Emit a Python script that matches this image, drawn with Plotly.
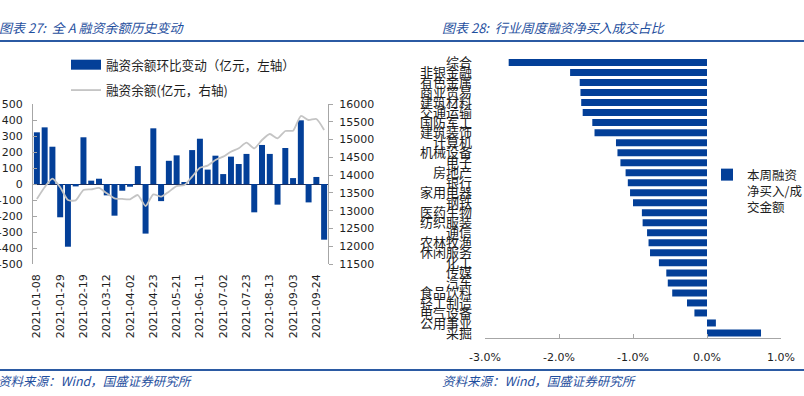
import plotly.graph_objects as go

W, H = 804, 396

# ---------------- data: left chart ----------------
dates = ["2021-01-08", "2021-01-15", "2021-01-22", "2021-01-29", "2021-02-05", "2021-02-10",
         "2021-02-19", "2021-02-26", "2021-03-05", "2021-03-12", "2021-03-19", "2021-03-26",
         "2021-04-02", "2021-04-09", "2021-04-16", "2021-04-23", "2021-04-30", "2021-05-14",
         "2021-05-21", "2021-05-28", "2021-06-04", "2021-06-11", "2021-06-18", "2021-06-25",
         "2021-07-02", "2021-07-09", "2021-07-16", "2021-07-23", "2021-07-30", "2021-08-06",
         "2021-08-13", "2021-08-20", "2021-08-27", "2021-09-03", "2021-09-10", "2021-09-17",
         "2021-09-24", "2021-09-30"]
weekly_change = [323, 354, 233, -208, -392, -15, 292, 21, 33, -71, -198, -42, -17, 112, -310,
                 348, -107, 145, 179, 8, 212, 283, 90, 177, 62, 171, 125, 188, -177, 244, 188,
                 -129, 225, 37, 398, -115, 44, -348]
balance = [13328, 13660, 13900, 13660, 13300, 13290, 13581, 13600, 13640, 13487, 13347, 13330,
           13320, 13440, 13131, 13460, 13394, 13534, 13690, 13722, 13956, 14209, 14266, 14425,
           14519, 14659, 14753, 14913, 14753, 14988, 15156, 15034, 15241, 15250, 15662, 15550,
           15578, 15269]
date_ticks = ["2021-01-08", "2021-01-29", "2021-02-19", "2021-03-12", "2021-04-02", "2021-04-23",
              "2021-05-21", "2021-06-11", "2021-07-02", "2021-07-23", "2021-08-13", "2021-09-03",
              "2021-09-24"]
left_ticks = [-500, -400, -300, -200, -100, 0, 100, 200, 300, 400, 500]
right_ticks = [11500, 12000, 12500, 13000, 13500, 14000, 14500, 15000, 15500, 16000]

# ---------------- data: right chart ----------------
industries = ["综合", "非银金融", "有色金属", "商业贸易", "建筑材料", "交通运输", "国防军工",
              "建筑装饰", "计算机", "机械设备", "电子", "房地产", "银行", "家用电器", "钢铁",
              "医药生物", "纺织服装", "通信", "农林牧渔", "休闲服务", "化工", "传媒", "汽车",
              "食品饮料", "轻工制造", "电气设备", "公用事业", "采掘"]
net_buy_pct = [-2.68, -1.85, -1.72, -1.71, -1.70, -1.68, -1.55, -1.52, -1.23, -1.21, -1.17,
               -1.10, -1.07, -1.04, -1.00, -0.88, -0.87, -0.81, -0.79, -0.77, -0.65, -0.55,
               -0.53, -0.47, -0.27, -0.17, 0.12, 0.73]
pct_ticks = [-3, -2, -1, 0, 1]

BLUE = "#033f98"
GRAY_LINE = "#c4c4c4"
AXIS = "#a6a6a6"
TITLE_BLUE = "#1f4f9e"
TXT = "#1e1e1e"
NUM_FONT = "DejaVu Sans"
CJK = "Noto Sans CJK SC"


def px_x(x):
    return x / W


def px_y(y):
    return (H - y) / H


fig = go.Figure()

# left chart
fig.add_trace(go.Bar(x=dates, y=weekly_change, marker=dict(color=BLUE, line=dict(width=0)),
                     width=0.77, showlegend=False, xaxis="x", yaxis="y"))
fig.add_trace(go.Scatter(x=dates, y=balance, mode="lines",
                         line=dict(color=GRAY_LINE, width=1.8, shape="spline", smoothing=0.6),
                         showlegend=False, xaxis="x", yaxis="y2"))
# legend entries for left chart
fig.add_trace(go.Scatter(x=[None], y=[None], mode="lines", name="融资余额环比变动（亿元，左轴）",
                         line=dict(color=BLUE, width=10), legend="legend", legendgroup="a",
                         xaxis="x", yaxis="y"))
fig.add_trace(go.Scatter(x=[None], y=[None], mode="lines", name="融资余额(亿元，右轴)",
                         line=dict(color=GRAY_LINE, width=1.8), legend="legend", legendgroup="b",
                         xaxis="x", yaxis="y2"))

# right chart
fig.add_trace(go.Bar(x=net_buy_pct, y=industries, orientation="h",
                     marker=dict(color=BLUE, line=dict(width=0)), width=0.7,
                     name="本周融资<br>净买入/成<br>交金额", legend="legend2",
                     xaxis="x3", yaxis="y3"))

fig.update_layout(
    width=W, height=H, autosize=False,
    margin=dict(l=0, r=0, t=0, b=0, pad=0, autoexpand=False),
    paper_bgcolor="white", plot_bgcolor="white",
    showlegend=True,
    xaxis=dict(domain=[px_x(33), px_x(328)], type="category", categoryorder="array",
               categoryarray=dates, range=[-0.5, len(dates) - 0.5],
               tickmode="array", tickvals=date_ticks, ticktext=date_ticks, tickangle=-90,
               tickfont=dict(family=NUM_FONT, size=11, color=TXT), showline=False,
               ticks="", showgrid=False, zeroline=False, ticklabelstandoff=7, anchor="y",
               automargin=False),
    yaxis=dict(domain=[px_y(264), px_y(104)], range=[-500, 500], tickmode="array",
               tickvals=left_ticks, ticktext=[str(v) for v in left_ticks],
               tickfont=dict(family=NUM_FONT, size=11, color=TXT),
               showline=True, linecolor=AXIS, linewidth=1, ticks="inside", ticklen=4,
               tickcolor=AXIS, showgrid=False, zeroline=True, zerolinecolor="#1c2f5e",
               zerolinewidth=1.2, ticklabelstandoff=7, anchor="x", automargin=False),
    yaxis2=dict(overlaying="y", side="right", range=[11500, 16000], tickmode="array",
                tickvals=right_ticks, ticktext=[str(v) for v in right_ticks],
                tickfont=dict(family=NUM_FONT, size=11, color=TXT),
                showline=True, linecolor=AXIS, ticks="outside", ticklen=4, tickcolor=AXIS,
                showgrid=False, zeroline=False, ticklabelstandoff=4, anchor="x",
                automargin=False),
    xaxis3=dict(domain=[px_x(485), px_x(781)], range=[-3, 1], tickmode="array",
                tickvals=pct_ticks, ticktext=[f"{v:.1f}%" for v in pct_ticks],
                tickfont=dict(family=NUM_FONT, size=11, color=TXT),
                showline=True, linecolor=AXIS, ticks="inside", ticklen=4, tickcolor=AXIS,
                showgrid=False, zeroline=False, ticklabelstandoff=9, anchor="y3",
                automargin=False),
    yaxis3=dict(domain=[px_y(338), px_y(57.5)], type="category", categoryorder="array",
                categoryarray=industries, range=[len(industries) - 0.5, -0.5],
                tickmode="array", tickvals=industries, ticktext=industries,
                tickfont=dict(family=CJK, size=13, color=TXT), showline=False, ticks="",
                showgrid=False, zeroline=False, ticklabelstandoff=12, anchor="x3",
                automargin=False),
    yaxis4=dict(overlaying="y3", anchor="free", position=px_x(707), side="right",
                range=[len(industries) - 0.5, -0.5], tickmode="linear", tick0=-0.5, dtick=1,
                showticklabels=False, showline=True, linecolor=AXIS, ticks="outside",
                ticklen=4, tickcolor=AXIS, showgrid=False, zeroline=False, automargin=False),
    legend=dict(x=px_x(66), y=px_y(50), xanchor="left", yanchor="top",
                bgcolor="rgba(0,0,0,0)", font=dict(family=CJK, size=12.6, color=TXT),
                traceorder="grouped", tracegroupgap=6, itemwidth=30),
    legend2=dict(x=px_x(707), y=px_y(160), xanchor="left", yanchor="top",
                 bgcolor="rgba(0,0,0,0)", font=dict(family=CJK, size=12.5, color=TXT),
                 valign="top", itemwidth=30),
)

title_font = dict(family=CJK, size=13, color=TITLE_BLUE, style="italic")
src_font = dict(family=CJK, size=12.5, color=TITLE_BLUE, style="italic")
annotations = [
    dict(text="图表 27:\u00a0\u00a0全 A 融资余额历史变动", x=px_x(-3), y=px_y(27), font=title_font),
    dict(text="图表 28:\u00a0\u00a0行业周度融资净买入成交占比", x=px_x(440), y=px_y(27), font=title_font),
    dict(text="资料来源：Wind，国盛证券研究所", x=px_x(-4), y=px_y(380), font=src_font),
    dict(text="资料来源：Wind，国盛证券研究所", x=px_x(440), y=px_y(380), font=src_font),
]
for a in annotations:
    fig.add_annotation(xref="paper", yref="paper", xanchor="left", yanchor="middle",
                       showarrow=False, **a)

fig.add_shape(type="line", xref="paper", yref="paper", x0=0, x1=1, y0=px_y(41), y1=px_y(41),
              line=dict(color="#2b5aa3", width=2.2))
fig.add_shape(type="line", xref="paper", yref="paper", x0=0, x1=1, y0=px_y(370), y1=px_y(370),
              line=dict(color="#2b5aa3", width=2))

fig.write_html("out.html", config={"displayModeBar": False},
               post_script="document.body.style.margin='0px';document.body.style.overflow='hidden';")
